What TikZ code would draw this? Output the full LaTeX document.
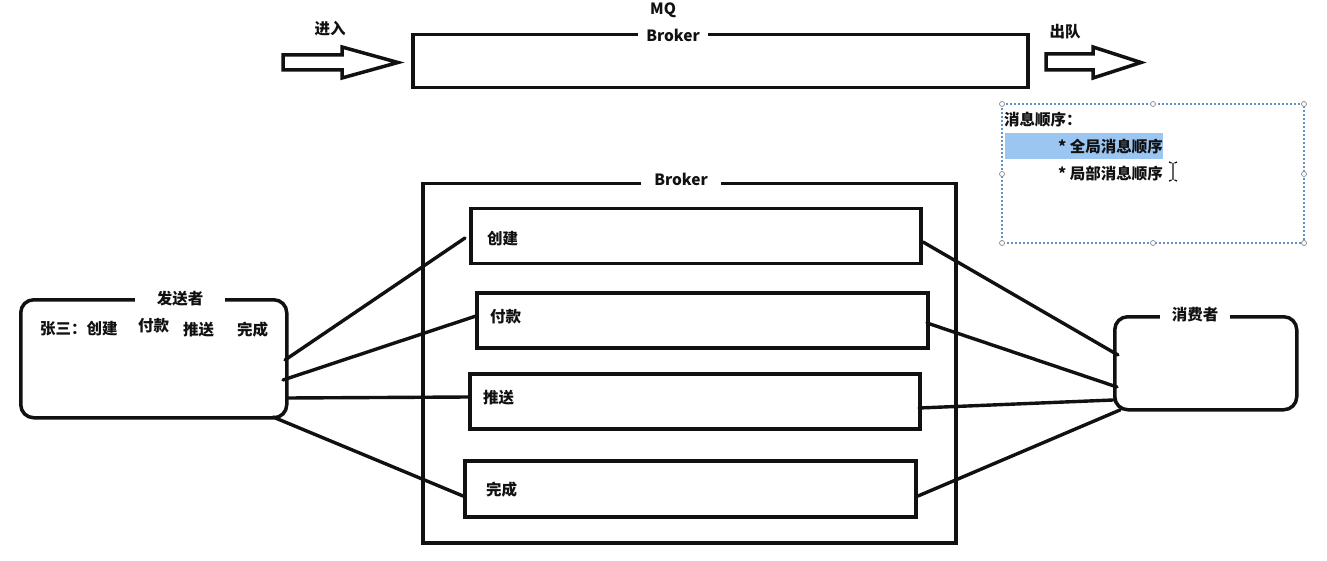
\documentclass[tikz,border=0pt]{standalone}
\usepackage{fontspec}
\setmainfont{Noto Sans CJK SC}
\definecolor{selblue}{HTML}{9CC6F2}
\definecolor{dashblue}{HTML}{5E92C8}
\definecolor{handlegray}{HTML}{8A8A8A}
\definecolor{ink}{HTML}{111111}
\begin{document}
\begin{tikzpicture}[x=1pt,y=-1pt,
  box/.style={draw=ink, line width=3.5pt, inner sep=0pt},
  rbox/.style={draw=ink, line width=3.5pt, rounded corners=13pt, inner sep=0pt},
  txt/.style={font=\bfseries\fontsize{15.5}{18}\selectfont, inner sep=0pt, text=ink},
  gaplabel/.style={txt, fill=white, inner ysep=3pt},
  wire/.style={draw=ink, line width=3.4pt, line cap=round},
  blockarrow/.style={draw=ink, line width=3.5pt, line join=miter, fill=white},
  handle/.style={circle, draw=handlegray, fill=white, line width=0.7pt, minimum size=5pt, inner sep=0pt}
]
\useasboundingbox (0,0) rectangle (1327,561);

% ---- top: MQ broker ----
\node[box, minimum width=615pt, minimum height=53pt, anchor=north west] (mq) at (411,33) {};
\node[gaplabel, inner xsep=8pt, anchor=center] (mqlab) at (673,35) {Broker};
\node[txt, anchor=west] (mqtitle) at (650,10) {MQ};

% in / out arrows
\draw[blockarrow] (283,55) -- (342,55) -- (342,47) -- (398,62.5) -- (342,78) -- (342,70) -- (283,70) -- cycle;
\node[txt] (inlab) at (330,29) {进入};
\draw[blockarrow] (1046,54) -- (1093,54) -- (1093,47) -- (1141,62.5) -- (1093,78) -- (1093,70) -- (1046,70) -- cycle;
\node[txt] (outlab) at (1065,32) {出队};

% ---- selected text box ----
\draw[dashblue, line width=1.2pt, dash pattern=on 2pt off 2pt] (1002,104) rectangle (1304,243);
\fill[selblue] (1005,133) rectangle (1163,159);
\node[txt, anchor=west] (ordtitle) at (1004,120) {消息顺序：};
\node[txt, anchor=east] (ordg) at (1163,147) {* 全局消息顺序};
\node[txt, anchor=east] (ordl) at (1163,174) {* 局部消息顺序};
\draw[ink, line width=1.3pt] (1173,163) -- (1173,180)
  (1169,162) -- (1171.5,163) (1177,162) -- (1174.5,163)
  (1169,181) -- (1171.5,180) (1177,181) -- (1174.5,180);
\foreach \hx/\hy in {1002/104,1153/104,1304/104,1002/174,1304/174,1002/243,1153/243,1304/243}
  \node[handle] at (\hx,\hy) {};

% ---- main broker ----
\node[box, minimum width=533pt, minimum height=359pt, anchor=north west] (broker) at (421,182) {};
\node[gaplabel, inner xsep=13pt] (brokerlab) at (681,179) {Broker};

\node[box, minimum width=450pt, minimum height=55pt, anchor=north west] (q1) at (469,207) {};
\node[box, minimum width=451pt, minimum height=55pt, anchor=north west] (q2) at (475,291) {};
\node[box, minimum width=450pt, minimum height=55pt, anchor=north west] (q3) at (468,372) {};
\node[box, minimum width=451pt, minimum height=56pt, anchor=north west] (q4) at (463,459) {};
\node[txt, anchor=west] (q1lab) at (487,239) {创建};
\node[txt, anchor=west] (q2lab) at (490,317) {付款};
\node[txt, anchor=west] (q3lab) at (483,398) {推送};
\node[txt, anchor=west] (q4lab) at (486,490) {完成};

% ---- sender ----
\node[rbox, minimum width=266pt, minimum height=118pt, anchor=north west] (snd) at (19,298) {};
\node[gaplabel, inner xsep=22pt] (sndlab) at (180,299) {发送者};
\node[txt, anchor=west] (z1) at (40,329) {张三：创建};
\node[txt, anchor=west] (z2) at (138,326) {付款};
\node[txt, anchor=west] (z3) at (183,330) {推送};
\node[txt, anchor=west] (z4) at (237,330) {完成};

% ---- consumer ----
\node[rbox, minimum width=182pt, minimum height=93pt, anchor=north west] (csm) at (1113,315) {};
\node[gaplabel, inner xsep=12pt] (csmlab) at (1195,315) {消费者};

% ---- connector end points ----
\coordinate (s1) at (285,360);
\coordinate (s2) at (283,380);
\coordinate (s3) at (287,398);
\coordinate (s4) at (273,417);
\coordinate (a1) at (465,238);
\coordinate (a2) at (476,316);
\coordinate (a3) at (469,397);
\coordinate (a4) at (463,496);
\coordinate (b1) at (923,242);
\coordinate (b2) at (927,323);
\coordinate (b3) at (919,408);
\coordinate (b4) at (918,496);
\coordinate (c1) at (1118,355);
\coordinate (c2) at (1117,387);
\coordinate (c3) at (1113,400);
\coordinate (c4) at (1120,410);

\draw[wire] (s1) -- (a1);
\draw[wire] (s2) -- (a2);
\draw[wire] (s3) -- (a3);
\draw[wire] (s4) -- (a4);
\draw[wire] (b1) -- (c1);
\draw[wire] (b2) -- (c2);
\draw[wire] (b3) -- (c3);
\draw[wire] (b4) -- (c4);
\end{tikzpicture}
\end{document}
